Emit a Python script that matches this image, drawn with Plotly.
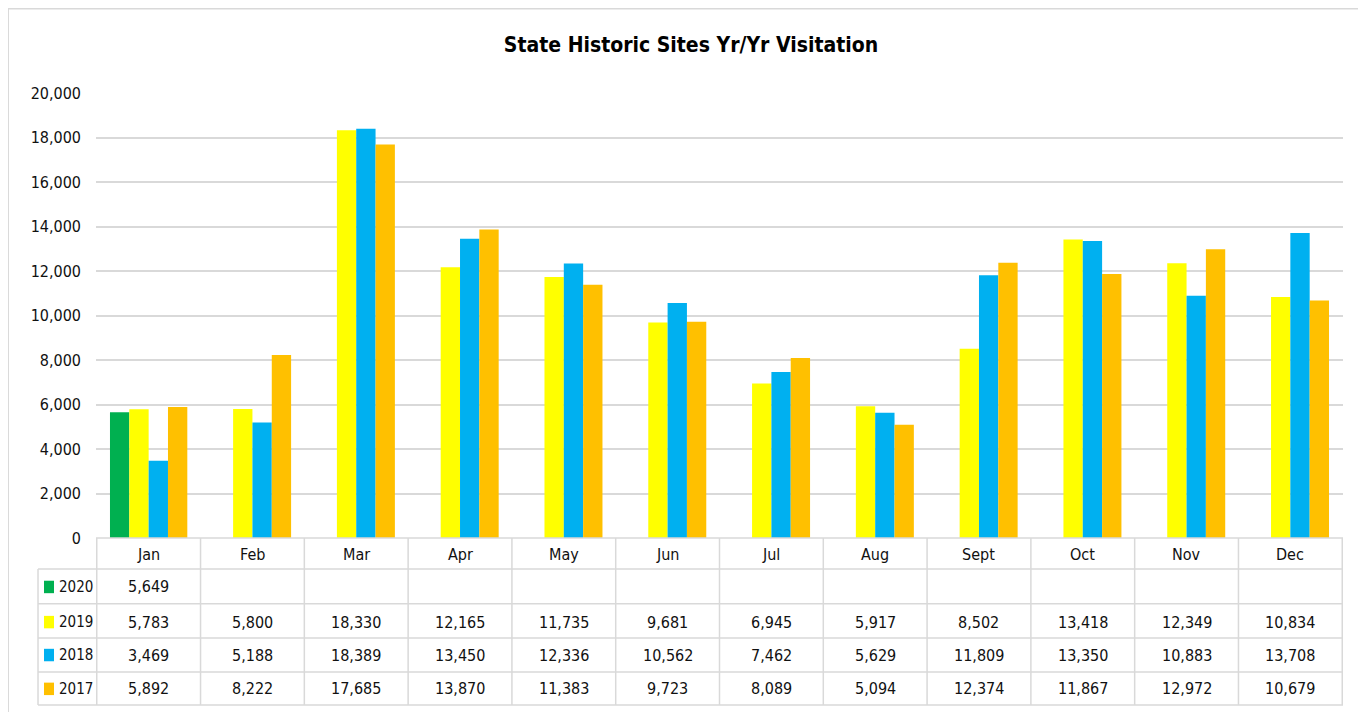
import plotly.graph_objects as go

months = ["Jan", "Feb", "Mar", "Apr", "May", "Jun", "Jul", "Aug", "Sept", "Oct", "Nov", "Dec"]
years = ["2020", "2019", "2018", "2017"]
v2020 = [5649, None, None, None, None, None, None, None, None, None, None, None]
v2019 = [5783, 5800, 18330, 12165, 11735, 9681, 6945, 5917, 8502, 13418, 12349, 10834]
v2018 = [3469, 5188, 18389, 13450, 12336, 10562, 7462, 5629, 11809, 13350, 10883, 13708]
v2017 = [5892, 8222, 17685, 13870, 11383, 9723, 8089, 5094, 12374, 11867, 12972, 10679]
colors = ["#00B050", "#FFFF00", "#00B0F0", "#FFC000"]
series = [v2020, v2019, v2018, v2017]

FONT = "DejaVu Sans Condensed, Liberation Sans Narrow, sans-serif"
GRID = "#d9d9d9"
TXT = "#111111"

fig = go.Figure()
for name, vals, col in zip(years, series, colors):
    fig.add_trace(go.Bar(x=months, y=vals, name=name, marker=dict(color=col, line=dict(width=0)),
                         showlegend=False))

# table geometry (paper coords)
row_lines = [0.0, -0.0697, -0.148, -0.2247, -0.301, -0.375]
row_centers = [-0.11, -0.189, -0.263, -0.339]
header_center = -0.037
legend_left = -0.0465

shapes = []
annotations = []
shapes.append(dict(type="line", xref="paper", yref="paper", x0=0, x1=1, y0=0, y1=0,
                   line=dict(color=GRID, width=1.5)))
for yl in row_lines[1:]:
    shapes.append(dict(type="line", xref="paper", yref="paper", x0=legend_left, x1=1, y0=yl, y1=yl,
                       line=dict(color=GRID, width=1.5)))
for i in range(len(months) + 1):
    shapes.append(dict(type="line", xref="x", yref="paper", x0=i - 0.5, x1=i - 0.5, y0=0, y1=row_lines[-1],
                       line=dict(color=GRID, width=1.5)))
shapes.append(dict(type="line", xref="paper", yref="paper", x0=legend_left, x1=legend_left,
                   y0=row_lines[1], y1=row_lines[-1], line=dict(color=GRID, width=1.5)))
# outer border
shapes.append(dict(type="rect", xref="paper", yref="paper", x0=-0.0706, x1=1.0136, y0=-0.42, y1=1.19,
                   line=dict(color="#d9d9d9", width=2), fillcolor="rgba(0,0,0,0)"))

for m in months:
    annotations.append(dict(x=m, y=header_center, xref="x", yref="paper", text=m, showarrow=False,
                            font=dict(family=FONT, size=16, color=TXT), yanchor="middle"))
for name, vals, col, yc in zip(years, series, colors, row_centers):
    for m, v in zip(months, vals):
        if v is not None:
            annotations.append(dict(x=m, y=yc, xref="x", yref="paper", text=f"{v:,}", showarrow=False,
                                    font=dict(family=FONT, size=16, color=TXT), yanchor="middle"))
    shapes.append(dict(type="rect", xref="paper", yref="paper", x0=-0.0417, x1=-0.0337,
                       y0=yc - 0.014, y1=yc + 0.014, fillcolor=col, line=dict(width=0)))
    annotations.append(dict(x=-0.0313, y=yc, xref="paper", yref="paper", text=name, showarrow=False,
                            xanchor="left", yanchor="middle",
                            font=dict(family=FONT, size=15, color=TXT)))

# page body has an 8px margin; compensate so plot area lands at x 96-1343, y 93-538
fig.update_layout(
    width=1366, height=712,
    margin=dict(l=88, r=31, t=85, b=182, autoexpand=False),
    paper_bgcolor="white", plot_bgcolor="white",
    barmode="group", bargap=0.255, bargroupgap=0,
    title=dict(text="<b>State Historic Sites Yr/Yr Visitation</b>", x=0.5, xanchor="center",
               y=0.948, yanchor="middle", font=dict(family=FONT, size=21, color="black")),
    xaxis=dict(showticklabels=False, showgrid=False, ticks="", showline=False, zeroline=False),
    yaxis=dict(range=[0, 20000], dtick=2000, tickformat=",", showgrid=True, gridcolor=GRID, gridwidth=1.5,
               zeroline=False, showline=False, ticks="", ticklabelstandoff=14, automargin=False,
               tickfont=dict(family=FONT, size=16, color=TXT)),
    shapes=shapes, annotations=annotations,
)

fig.write_html("out.html")
